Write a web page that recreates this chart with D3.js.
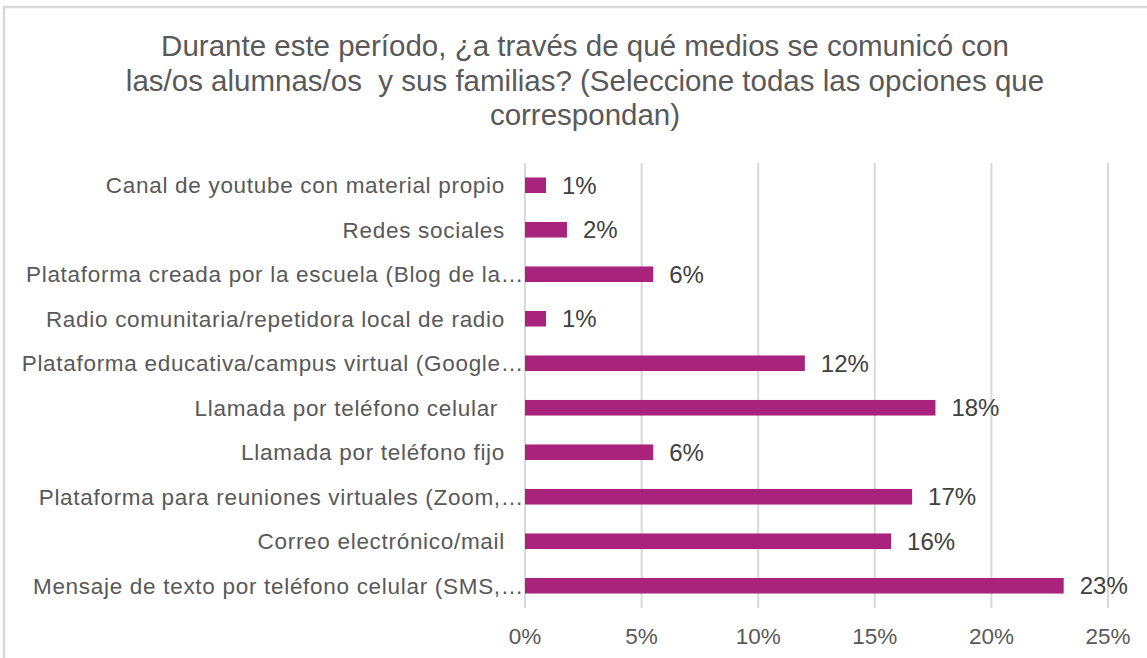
<!DOCTYPE html>
<html>
<head>
<meta charset="utf-8">
<script src="https://cdn.jsdelivr.net/npm/d3@7"></script>
<style>
  body { margin: 0; background: #fff; }
  text { font-family: "Liberation Sans", Arial, sans-serif; white-space: pre; }
</style>
</head>
<body>
<div id="chart"></div>
<script>
const width = 1147, height = 658;

// data (top to bottom as drawn)
const categories = [
    "Canal de youtube con material propio",
    "Redes sociales",
    "Plataforma creada por la escuela (Blog de la…",
    "Radio comunitaria/repetidora local de radio",
    "Plataforma educativa/campus virtual (Google…",
    "Llamada por teléfono celular ",
    "Llamada por teléfono fijo",
    "Plataforma para reuniones virtuales (Zoom,…",
    "Correo electrónico/mail",
    "Mensaje de texto por teléfono celular (SMS,…"
];
const values = [0.9, 1.8, 5.5, 0.9, 12.0, 17.6, 5.5, 16.6, 15.7, 23.1];
const valueLabels = ["1%", "2%", "6%", "1%", "12%", "18%", "6%", "17%", "16%", "23%"];
const tickValues = [0, 5, 10, 15, 20, 25];
const titleLines = [
    "Durante este período, ¿a través de qué medios se comunicó con",
    "las/os alumnas/os  y sus familias? (Seleccione todas las opciones que",
    "correspondan)"
];

const svg = d3.select("#chart").append("svg")
    .attr("width", width).attr("height", height);

//chart frame
svg.append("rect")
    .attr("x", 4).attr("y", 7)
    .attr("width", width + 20).attr("height", height + 20)
    .style("fill", "#fff")
    .style("stroke", "#d9d9d9")
    .style("stroke-width", 2.5);

//title
svg.append("g").selectAll("text")
    .data(titleLines)
    .enter().append("text")
    .attr("x", 585)
    .attr("y", (d, i) => 56 + i * 34.5)
    .attr("text-anchor", "middle")
    .style("font-size", "29.5px")
    .style("fill", "#595959")
    .text(d => d);

//scales
const x = d3.scaleLinear().domain([0, 25]).range([525, 1108]);
const y = d3.scaleBand().domain(categories).range([163, 608]).paddingInner(0.65).paddingOuter(0.325);

//gridlines
svg.append("g").selectAll("line")
    .data(tickValues)
    .enter().append("line")
    .attr("x1", d => x(d)).attr("x2", d => x(d))
    .attr("y1", 163).attr("y2", 608)
    .style("stroke", "#d9d9d9")
    .style("stroke-width", 2);

//x axis labels
svg.append("g").selectAll("text")
    .data(tickValues)
    .enter().append("text")
    .attr("x", d => x(d))
    .attr("y", 644)
    .attr("text-anchor", "middle")
    .style("font-size", "22.5px")
    .style("fill", "#595959")
    .text(d => d + "%");

//bars
svg.append("g").selectAll("rect")
    .data(values)
    .enter().append("rect")
    .attr("x", x(0))
    .attr("y", (d, i) => y(categories[i]))
    .attr("width", d => x(d) - x(0))
    .attr("height", y.bandwidth())
    .style("fill", "#a9237d");

//value labels
svg.append("g").selectAll("text")
    .data(values)
    .enter().append("text")
    .attr("x", d => x(d) + 16)
    .attr("y", (d, i) => y(categories[i]) + y.bandwidth() / 2)
    .attr("dy", "0.36em")
    .style("font-size", "24px")
    .style("fill", "#404040")
    .text((d, i) => valueLabels[i]);

//category labels (truncated ones run up to the axis)
svg.append("g").selectAll("text")
    .data(categories)
    .enter().append("text")
    .attr("x", d => d.endsWith("…") ? 524 : 505)
    .attr("y", d => y(d) + y.bandwidth() / 2)
    .attr("dy", "0.36em")
    .attr("text-anchor", "end")
    .style("font-size", "22.5px")
    .style("letter-spacing", "0.7px")
    .style("fill", "#595959")
    .text(d => d);
</script>
</body>
</html>
